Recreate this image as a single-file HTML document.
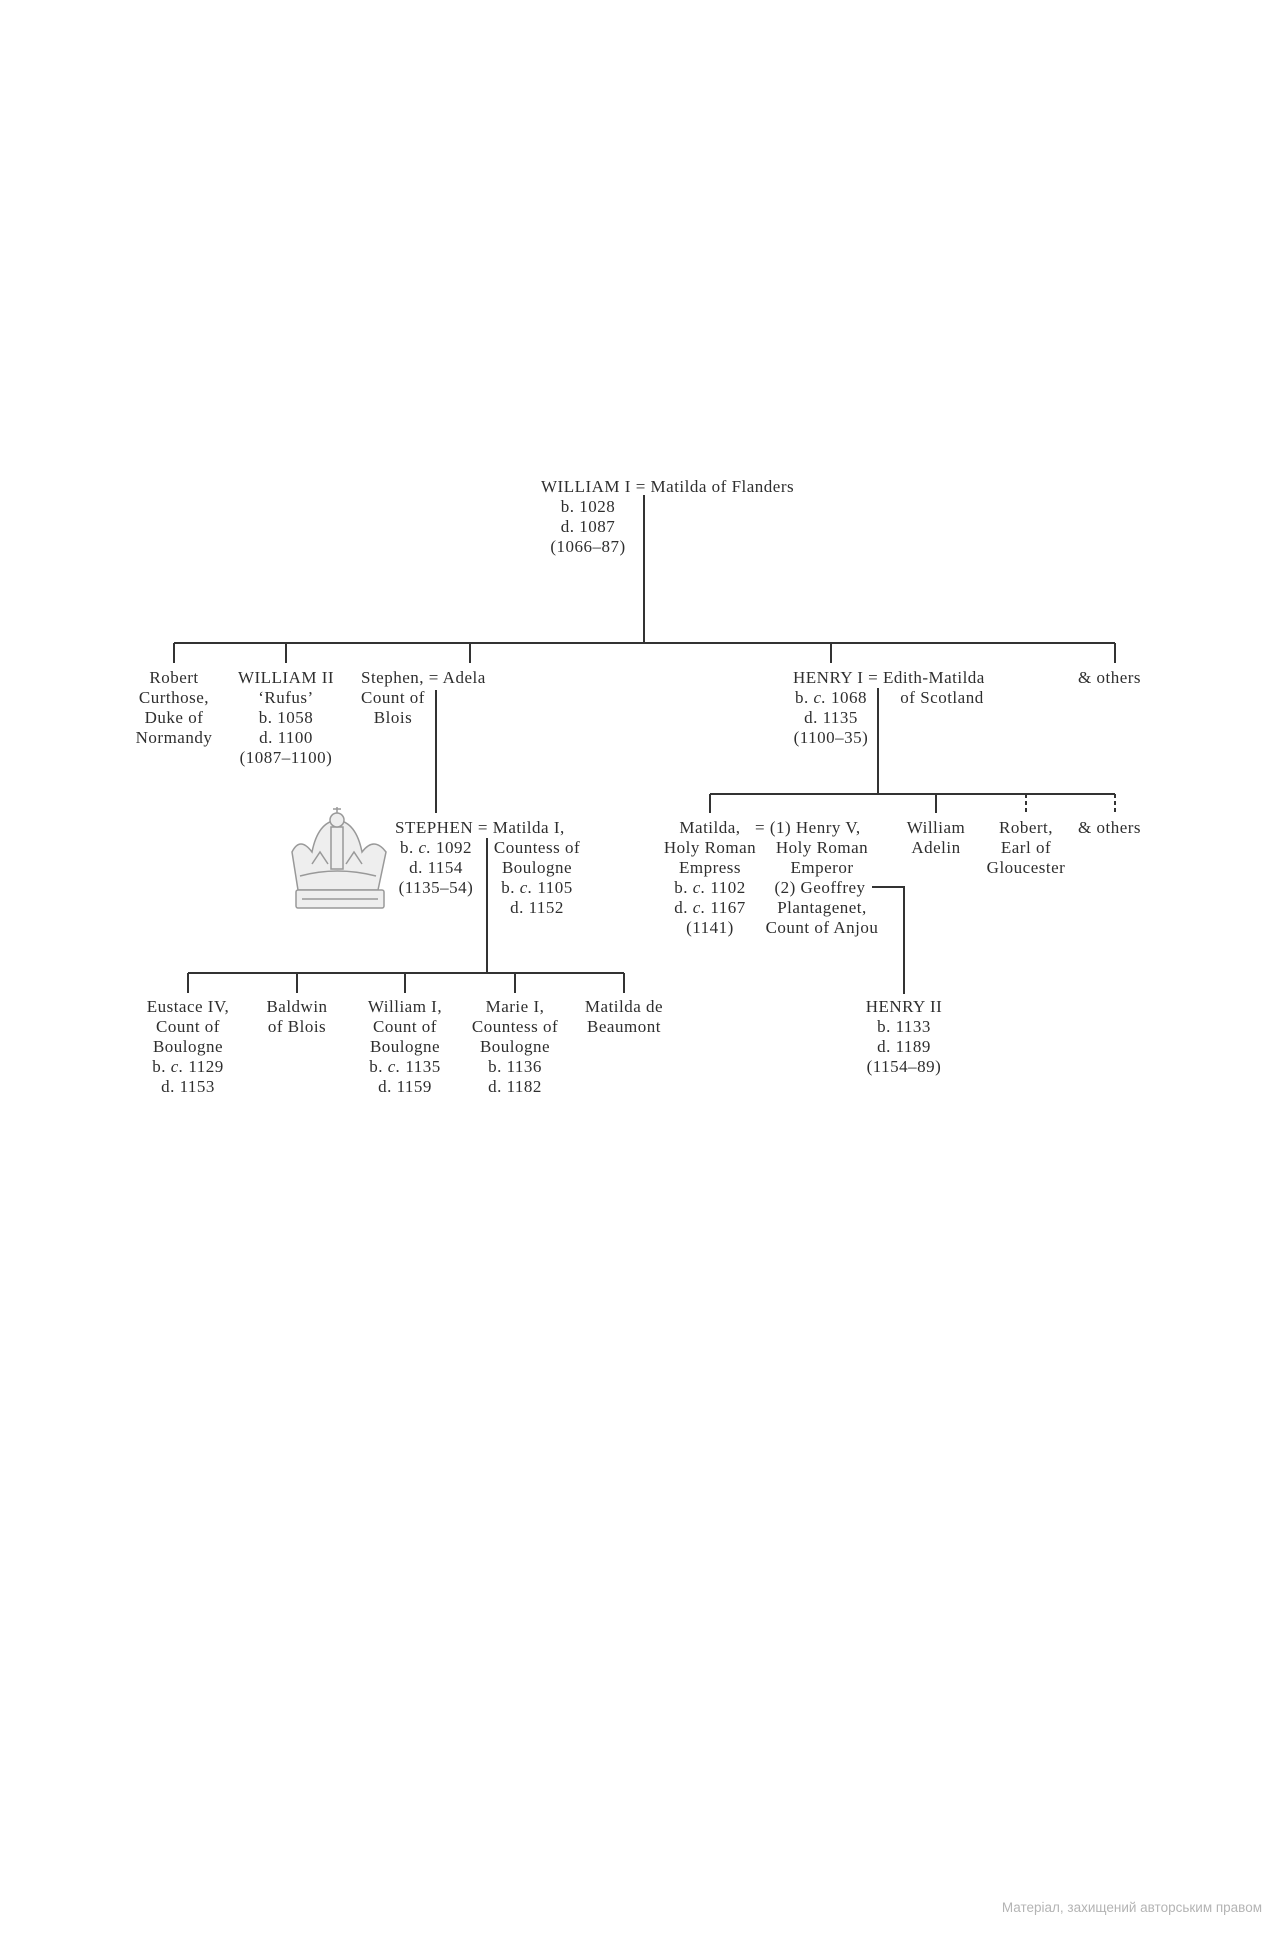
<!DOCTYPE html>
<html><head><meta charset="utf-8"><style>
html,body{margin:0;padding:0;background:#fff;}
svg{display:block;}
text{font-family:"Liberation Serif",serif;font-size:17px;letter-spacing:0.5px;fill:#2e2e2e;}
.c{text-anchor:middle;}
.w{font-family:"Liberation Sans","DejaVu Sans",sans-serif;font-size:13.5px;letter-spacing:0;fill:#b4b4b4;}
</style></head><body>
<svg width="1280" height="1935" viewBox="0 0 1280 1935" xmlns="http://www.w3.org/2000/svg">
<g stroke="#333" stroke-width="2" fill="none">
<path d="M644 495V643M174 643H1115M174 643V663M286 643V663M470 643V663M831 643V663M1115 643V663"/>
<path d="M436 690V813"/>
<path d="M878 688V794M710 794H1115M710 794V813M936 794V813"/>
<path d="M1026 794V813M1115 794V813" stroke-dasharray="4,3"/>
<path d="M872 887H904V994"/>
<path d="M487 838V973M188 973H624M188 973V993M297 973V993M405 973V993M515 973V993M624 973V993"/>
</g>
<!-- crown -->
<g stroke="#999" stroke-width="1.5" fill="#eee">
<path d="M292 852 Q300 836 312 852 Q318 822 337 820 Q356 822 362 852 Q374 836 386 852 L378 890 L298 890 Z"/>
<rect x="296" y="890" width="88" height="18" rx="2"/>
<rect x="331" y="827" width="12" height="42"/>
<circle cx="337" cy="820" r="7"/>
<path d="M337 807V813M333 809H341"/>
<path d="M300 876 Q337 866 376 876M302 899H378"/>
<path d="M312 864 l8 -12 l8 12 M346 864 l8 -12 l8 12"/>
</g>
<text x="541" y="492">WILLIAM I = Matilda of Flanders</text>
<text class="c" x="588" y="512">b. 1028</text>
<text class="c" x="588" y="532">d. 1087</text>
<text class="c" x="588" y="552">(1066–87)</text>

<text class="c" x="174" y="683">Robert</text>
<text class="c" x="174" y="703">Curthose,</text>
<text class="c" x="174" y="723">Duke of</text>
<text class="c" x="174" y="743">Normandy</text>

<text class="c" x="286" y="683">WILLIAM II</text>
<text class="c" x="286" y="703">‘Rufus’</text>
<text class="c" x="286" y="723">b. 1058</text>
<text class="c" x="286" y="743">d. 1100</text>
<text class="c" x="286" y="763">(1087–1100)</text>

<text x="361" y="683">Stephen, = Adela</text>
<text class="c" x="393" y="703">Count of</text>
<text class="c" x="393" y="723">Blois</text>

<text x="793" y="683">HENRY I = Edith-Matilda</text>
<text class="c" x="831" y="703">b. <tspan font-style="italic">c.</tspan> 1068</text>
<text class="c" x="831" y="723">d. 1135</text>
<text class="c" x="831" y="743">(1100–35)</text>
<text class="c" x="942" y="703">of Scotland</text>
<text x="1078" y="683">&amp; others</text>

<text x="395" y="833">STEPHEN = Matilda I,</text>
<text class="c" x="436" y="853">b. <tspan font-style="italic">c.</tspan> 1092</text>
<text class="c" x="436" y="873">d. 1154</text>
<text class="c" x="436" y="893">(1135–54)</text>
<text class="c" x="537" y="853">Countess of</text>
<text class="c" x="537" y="873">Boulogne</text>
<text class="c" x="537" y="893">b. <tspan font-style="italic">c.</tspan> 1105</text>
<text class="c" x="537" y="913">d. 1152</text>

<text class="c" x="710" y="833">Matilda,</text>
<text class="c" x="710" y="853">Holy Roman</text>
<text class="c" x="710" y="873">Empress</text>
<text class="c" x="710" y="893">b. <tspan font-style="italic">c.</tspan> 1102</text>
<text class="c" x="710" y="913">d. <tspan font-style="italic">c.</tspan> 1167</text>
<text class="c" x="710" y="933">(1141)</text>
<text x="755" y="833">= (1) Henry V,</text>
<text class="c" x="822" y="853">Holy Roman</text>
<text class="c" x="822" y="873">Emperor</text>
<text class="c" x="820" y="893">(2) Geoffrey</text>
<text class="c" x="822" y="913">Plantagenet,</text>
<text class="c" x="822" y="933">Count of Anjou</text>
<text class="c" x="936" y="833">William</text>
<text class="c" x="936" y="853">Adelin</text>
<text class="c" x="1026" y="833">Robert,</text>
<text class="c" x="1026" y="853">Earl of</text>
<text class="c" x="1026" y="873">Gloucester</text>
<text x="1078" y="833">&amp; others</text>

<text class="c" x="188" y="1012">Eustace IV,</text>
<text class="c" x="188" y="1032">Count of</text>
<text class="c" x="188" y="1052">Boulogne</text>
<text class="c" x="188" y="1072">b. <tspan font-style="italic">c.</tspan> 1129</text>
<text class="c" x="188" y="1092">d. 1153</text>
<text class="c" x="297" y="1012">Baldwin</text>
<text class="c" x="297" y="1032">of Blois</text>
<text class="c" x="405" y="1012">William I,</text>
<text class="c" x="405" y="1032">Count of</text>
<text class="c" x="405" y="1052">Boulogne</text>
<text class="c" x="405" y="1072">b. <tspan font-style="italic">c.</tspan> 1135</text>
<text class="c" x="405" y="1092">d. 1159</text>
<text class="c" x="515" y="1012">Marie I,</text>
<text class="c" x="515" y="1032">Countess of</text>
<text class="c" x="515" y="1052">Boulogne</text>
<text class="c" x="515" y="1072">b. 1136</text>
<text class="c" x="515" y="1092">d. 1182</text>
<text class="c" x="624" y="1012">Matilda de</text>
<text class="c" x="624" y="1032">Beaumont</text>

<text class="c" x="904" y="1012">HENRY II</text>
<text class="c" x="904" y="1032">b. 1133</text>
<text class="c" x="904" y="1052">d. 1189</text>
<text class="c" x="904" y="1072">(1154–89)</text>

<text class="w" x="1262" y="1912" text-anchor="end">Матеріал, захищений авторським правом</text>
</svg>
</body></html>
